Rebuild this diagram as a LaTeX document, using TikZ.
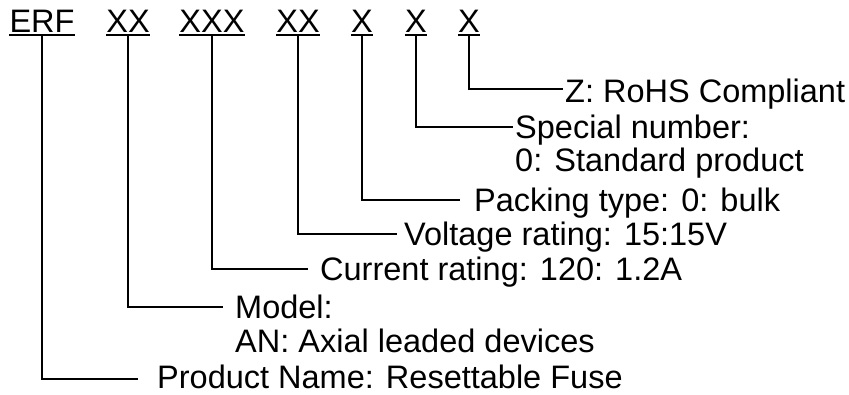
\documentclass[tikz,border=0pt]{standalone}
\usepackage{fontspec}
\setmainfont{Liberation Sans}
\begin{document}
\begin{tikzpicture}[x=1pt,y=-1pt,
  code/.style={font=\fontsize{32.5}{34}\selectfont, inner sep=0pt, anchor=base},
  desc/.style={font=\fontsize{32.5}{34}\selectfont, inner sep=0pt, anchor=base west},
  lead/.style={line width=1.8pt},
  uline/.style={line width=2.6pt}]
\useasboundingbox (0,0) rectangle (849,394);
% code fields
\node[code] (c1) at (42,32) {ERF};
\node[code] (c2) at (128,32) {XX};
\node[code] (c3) at (212,32) {XXX};
\node[code] (c4) at (298,32) {XX};
\node[code] (c5) at (362,32) {X};
\node[code] (c6) at (416,32) {X};
\node[code] (c7) at (469,32) {X};
\foreach \n in {c1,c2,c3,c4,c5,c6,c7}
  \draw[uline] ([yshift=-3pt]\n.base west) -- ([yshift=-3pt]\n.base east);
% leader ends
\coordinate (k1) at (138,379);
\coordinate (k2) at (223,307);
\coordinate (k3) at (308,269);
\coordinate (k4) at (397,234);
\coordinate (k5) at (460,200);
\coordinate (k6) at (513,127);
\coordinate (k7) at (563,89);
% descriptions
\node[desc] (d1) at (157,388) {Product Name: Resettable Fuse};
\node[desc] (d2) at (235,318) {Model:};
\node[desc] (d2b) at (235,352) {AN: Axial leaded devices};
\node[desc] (d3) at (320,280) {Current rating: 120: 1.2A};
\node[desc] (d4) at (404,245) {Voltage rating: 15:15V};
\node[desc] (d5) at (474,211) {Packing type: 0: bulk};
\node[desc] (d6) at (515,138) {Special number:};
\node[desc] (d6b) at (515,171) {0: Standard product};
\node[desc] (d7) at (565,102) {Z: RoHS Compliant};
% leaders
\draw[lead] ([yshift=-3pt]c1.base) |- (k1);
\draw[lead] ([yshift=-3pt]c2.base) |- (k2);
\draw[lead] ([yshift=-3pt]c3.base) |- (k3);
\draw[lead] ([yshift=-3pt]c4.base) |- (k4);
\draw[lead] ([yshift=-3pt]c5.base) |- (k5);
\draw[lead] ([yshift=-3pt]c6.base) |- (k6);
\draw[lead] ([yshift=-3pt]c7.base) |- (k7);
\end{tikzpicture}
\end{document}
